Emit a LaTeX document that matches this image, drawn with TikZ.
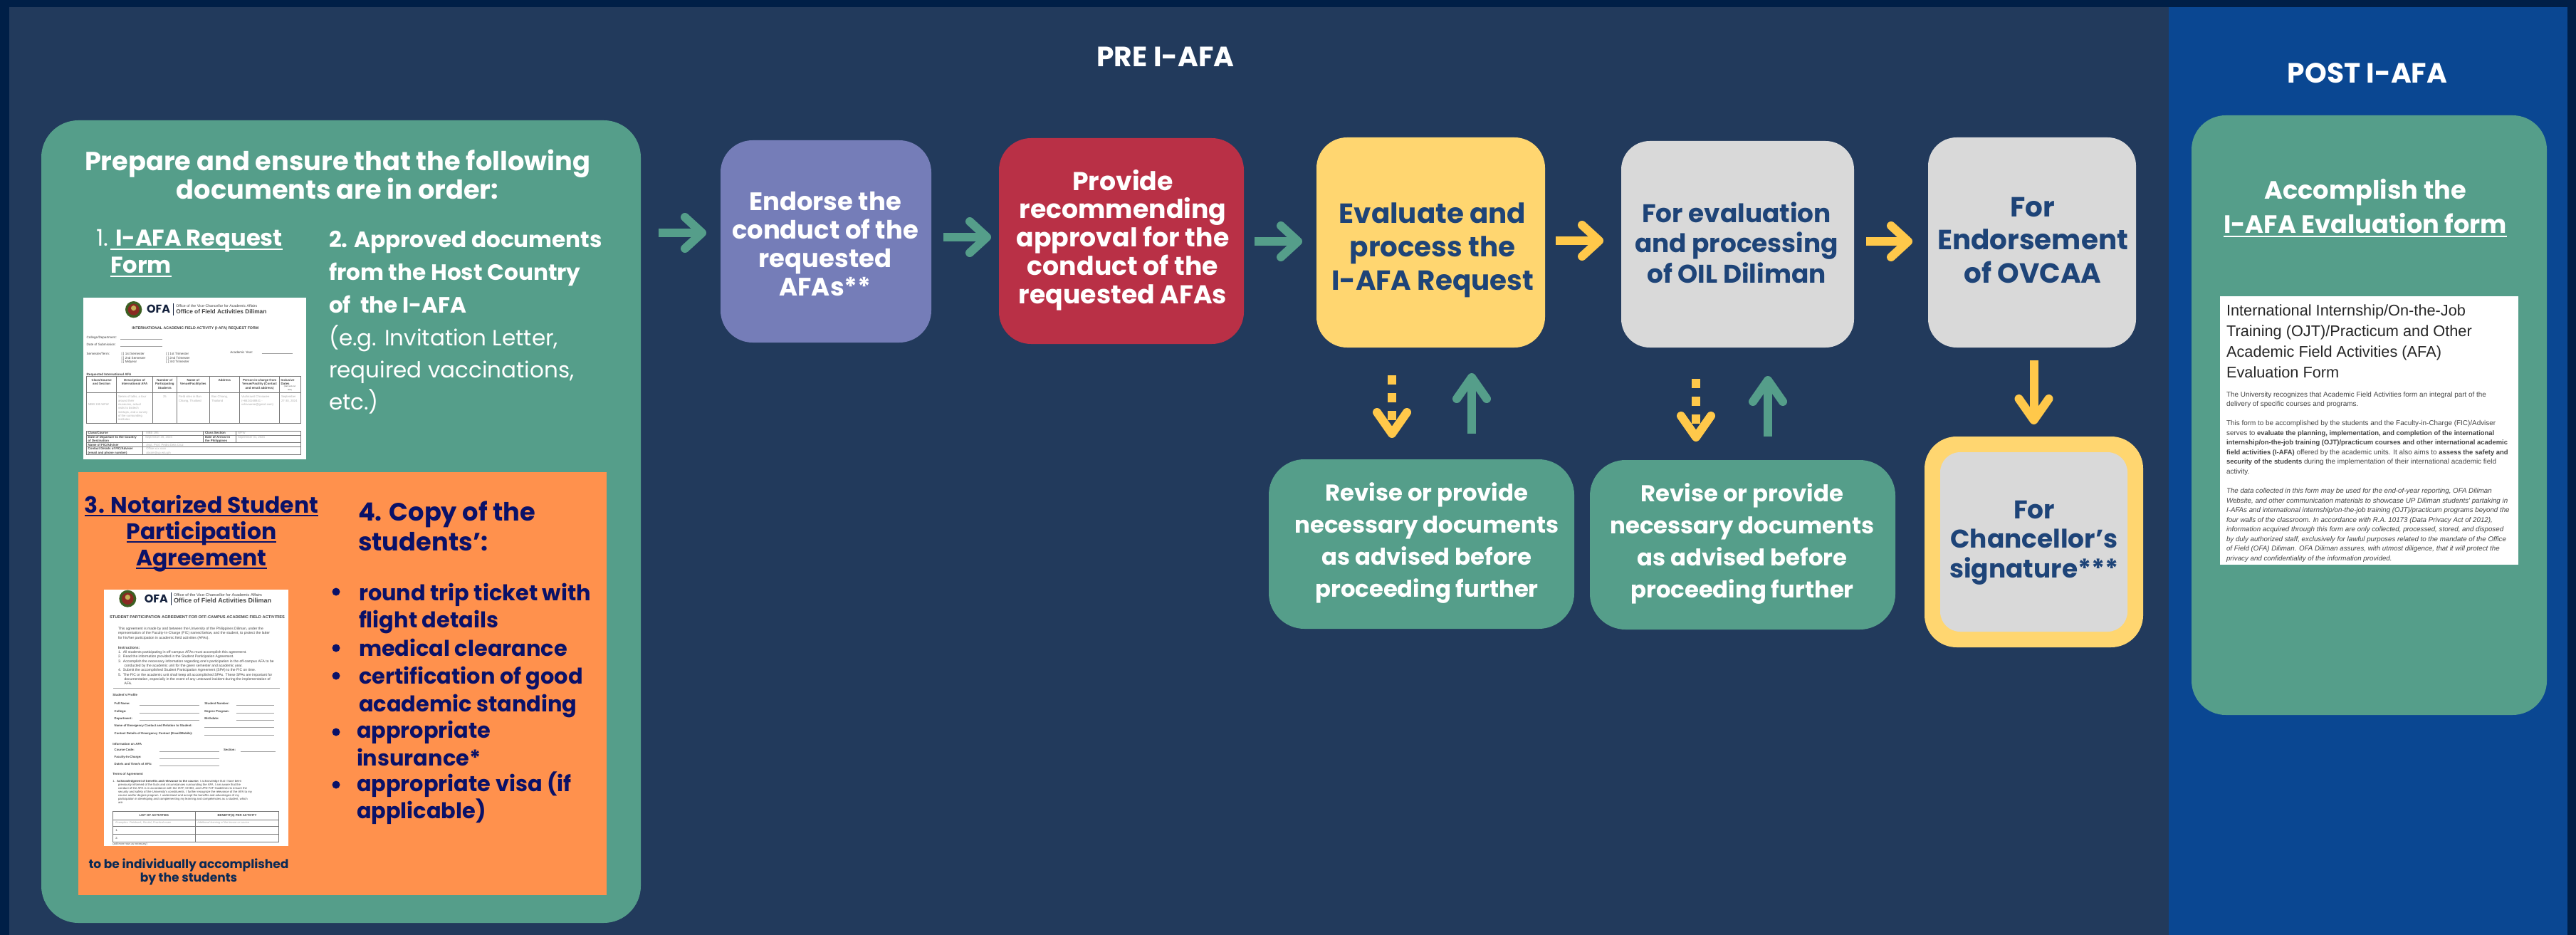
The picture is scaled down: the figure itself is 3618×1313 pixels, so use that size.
\documentclass[tikz,border=0pt]{standalone}
\usepackage{fontspec}
\setmainfont{Poppins}
\newfontfamily\formfont{Liberation Sans}
\usetikzlibrary{arrows.meta,calc}
\definecolor{edgenavy}{HTML}{001F47}
\definecolor{panelnavy}{HTML}{223A5C}
\definecolor{postblue}{HTML}{0A4792}
\definecolor{tealgreen}{HTML}{559E8A}
\definecolor{purplebox}{HTML}{757DB8}
\definecolor{redbox}{HTML}{B93046}
\definecolor{yellowbox}{HTML}{FFD670}
\definecolor{graybox}{HTML}{D9D9D9}
\definecolor{orangebox}{HTML}{FF914D}
\definecolor{arrowyellow}{HTML}{FFC84A}
\definecolor{boxtext}{HTML}{1E4478}
\definecolor{orangetext}{HTML}{0A1168}
\definecolor{notetext}{HTML}{0B2A55}
\definecolor{formgray}{HTML}{AAAAAA}
\definecolor{formtext}{HTML}{444444}
\definecolor{formline}{HTML}{777777}
\definecolor{sealgreen}{HTML}{3C5F22}
\definecolor{sealred}{HTML}{8A2A22}
\definecolor{ofanavy}{HTML}{14213D}
\tikzset{
  x=1pt,y=-1pt,
  flowbox/.style={rectangle,inner sep=0pt,outer sep=0pt,align=center},
  flowlabel/.style={inner sep=0pt,outer sep=0pt,align=center,anchor=base},
  flowarrow/.style={line width=12pt,-{Straight Barb[round,length=24pt,width=44pt,line width=12pt]}},
  vertarrow/.style={line width=12pt,-{Straight Barb[round,length=30pt,width=42pt,line width=12pt]}},
  greenarrow/.style={flowarrow,draw=tealgreen},
  yellowarrow/.style={flowarrow,draw=arrowyellow},
  upgreen/.style={vertarrow,draw=tealgreen},
  downyellow/.style={vertarrow,draw=arrowyellow},
  dashyellow/.style={vertarrow,draw=arrowyellow,dash pattern=on 13pt off 12pt},
  plain/.style={inner sep=0pt,outer sep=0pt,anchor=base west},
  formrule/.style={draw=formline,line width=0.7pt},
  formlight/.style={draw=formline!70,line width=0.6pt},
}
\newcommand{\boxn}[7][]{%
  \node[flowbox,#7,minimum width={(#4-#2)*1pt},minimum height={(#5-#3)*1pt},#1] (#6) at ({(#2+#4)/2},{(#3+#5)/2}) {};}
\newcommand{\ul}[1]{\setbox0\hbox{#1}\rlap{\rule[-5pt]{\wd0}{2.4pt}}\box0}
\newcounter{ftc}
\newcommand{\ft}[5][formtext]{%
  \stepcounter{ftc}%
  \node[plain,text=#1,font=\formfont\fontsize{#4}{#4}\selectfont] (ft\theftc) at (#2,#3) {#5};}
\newcommand{\ftc}[5][formtext]{%
  \stepcounter{ftc}%
  \node[inner sep=0pt,outer sep=0pt,anchor=base,align=center,text=#1,font=\formfont\fontsize{#4}{5.33}\selectfont] (ft\theftc) at (#2,#3) {#5};}
\newcommand{\mainline}[6][white]{%
  \node[plain,text=#1,font=#5] (#6) at (#2,#3) {#4};}
\newcommand{\fitsize}[4]{\setbox0\hbox{#3\fontsize{100}{100}\selectfont #4}\pgfmathsetmacro#1{#2/\wd0*100}}
\newcommand{\bb}[1]{{\fontsize{\szBodyB}{\szBodyB}\selectfont\bfseries #1}}
\begin{document}
\fitsize{\szTitle}{193}{\bfseries}{PRE I-AFA}
\fitsize{\szHead}{710}{\bfseries}{Prepare and ensure that the following}
\fitsize{\szOne}{235}{\bfseries}{I-AFA Request}
\fitsize{\szTwo}{384}{\bfseries}{2. Approved documents}
\fitsize{\szEg}{322}{}{(e.g. Invitation Letter,}
\fitsize{\szNota}{328}{\bfseries}{3. Notarized Student}
\fitsize{\szCopy}{249}{\bfseries}{4. Copy of the}
\fitsize{\szRound}{326}{\bfseries}{round trip ticket with}
\fitsize{\szIndiv}{281}{\bfseries}{to be individually accomplished}
\fitsize{\szCond}{262}{\bfseries}{conduct of the}
\fitsize{\szProv}{299}{\bfseries}{approval for the}
\fitsize{\szEvalq}{284}{\bfseries}{I-AFA Request}
\fitsize{\szProc}{286}{\bfseries}{and processing}
\fitsize{\szEndo}{268}{\bfseries}{Endorsement}
\fitsize{\szNece}{371}{\bfseries}{necessary documents}
\fitsize{\szChan}{235}{\bfseries}{Chancellor’s}
\fitsize{\szAcc}{398}{\bfseries}{I-AFA Evaluation form}
\fitsize{\szOfa}{33}{\bfseries}{OFA}
\fitsize{\szTit}{336}{\formfont}{International Internship/On-the-Job}
\fitsize{\szBody}{365}{\formfont}{The University recognizes that Academic Field Activities form an integral part of the}
\fitsize{\szBodyB}{395}{\formfont\bfseries}{internship/on-the-job training (OJT)/practicum courses and other international academic}
\fitsize{\szItal}{393}{\formfont\itshape}{by duly authorized staff, exclusively for lawful purposes related to the mandate of the Office}
\fitsize{\szOfaA}{127}{\formfont\bfseries}{Office of Field Activities Diliman}
\fitsize{\szOfaB}{137}{\formfont\bfseries}{Office of Field Activities Diliman}
\fitsize{\szVcA}{114}{\formfont}{Office of the Vice-Chancellor for Academic Affairs}
\fitsize{\szVcB}{124}{\formfont}{Office of the Vice-Chancellor for Academic Affairs}
\fitsize{\szReq}{178}{\formfont\bfseries}{INTERNATIONAL ACADEMIC FIELD ACTIVITY (I-AFA) REQUEST FORM}
\fitsize{\szStu}{246}{\formfont\bfseries}{STUDENT PARTICIPATION AGREEMENT FOR OFF-CAMPUS ACADEMIC FIELD ACTIVITIES}
\fitsize{\szAgr}{213}{\formfont}{representation of the Faculty-In-Charge (FIC) named below, and the student, to protect the latter}
\begin{tikzpicture}
\useasboundingbox (0,0) rectangle (3618,1313);
\fill[edgenavy] (0,0) rectangle (3618,1313);
\fill[panelnavy] (13,10) rectangle (3046,1313);
\fill[postblue] (3046,10) rectangle (3606,1313);

% titles
\node[flowlabel,text=white,font=\bfseries\fontsize{\szTitle}{40}\selectfont] (pretitle) at (1637,94) {PRE I-AFA};
\node[flowlabel,text=white,font=\bfseries\fontsize{\szTitle}{40}\selectfont] (posttitle) at (3325,117) {POST I-AFA};

% left panel
\boxn{58}{169}{900}{1296}{prep}{fill=tealgreen,rounded corners=52pt}
\boxn{110}{663}{852}{1257}{orange}{fill=orangebox}
\node[flowlabel,text=white,font=\bfseries\fontsize{\szHead}{35}\selectfont] (prephead) at (474,280) {Prepare and ensure that the following\\documents are in order:};

\mainline{135}{346}{1.}{\fontsize{\szOne}{38}\selectfont}{itemone}
\mainline{155}{346}{\ul{\hspace{7pt}I-AFA Request}}{\bfseries\fontsize{\szOne}{38}\selectfont}{itemonea}
\mainline{155}{384}{\ul{Form}}{\bfseries\fontsize{\szOne}{38}\selectfont}{itemoneb}
\mainline{462}{348}{2. Approved documents}{\bfseries\fontsize{\szTwo}{38}\selectfont}{itemtwoa}
\mainline{462}{393}{from the Host Country}{\bfseries\fontsize{\szTwo}{38}\selectfont}{itemtwob}
\mainline{462}{439}{of\ \ the I-AFA}{\bfseries\fontsize{\szTwo}{38}\selectfont}{itemtwoc}
\mainline{462}{485}{(e.g. Invitation Letter,}{\fontsize{\szEg}{38}\selectfont}{itemtwod}
\mainline{462}{530}{required vaccinations,}{\fontsize{\szEg}{38}\selectfont}{itemtwoe}
\mainline{462}{575}{etc.)}{\fontsize{\szEg}{38}\selectfont}{itemtwof}

% request form
\fill[white] (117,418) rectangle (430,645);
\begin{scope}[x=0.33333pt,y=-0.33333pt,shift={(110pt,-410pt)}]
\fill[sealgreen] (233,74) circle (35);
\fill[sealred] (233,74) circle (24);
\fill[yellowbox!70!sealgreen] (233,68) circle (11);
\node[inner sep=0pt,text=ofanavy,font=\bfseries\fontsize{\szOfa}{22}\selectfont] (reqofa) at (338,73) {OFA};
\draw[draw=ofanavy,line width=0.5pt] (400,48) -- (400,98);
\ft{412}{64}{\szVcA}{Office of the Vice-Chancellor for Academic Affairs}
\ft{412}{90}{\szOfaA}{\bfseries Office of Field Activities Diliman}
\ft{226}{157}{\szReq}{\bfseries INTERNATIONAL ACADEMIC FIELD ACTIVITY (I-AFA) REQUEST FORM}
\ft{35}{195}{4.6}{College/Department:}
\ft{35}{227}{4.6}{Date of Submission:}
\ft{35}{264}{4.6}{Semester/Term:}
\draw[formlight] (178,198) -- (355,198) (178,229) -- (355,229) (773,260) -- (903,260);
\ft{182}{265}{4.6}{[ ] 1st Semester}
\ft{182}{282}{4.6}{[ ] 2nd Semester}
\ft{182}{298}{4.6}{[ ] Midyear}
\ft{370}{265}{4.6}{[ ] 1st Trimester}
\ft{370}{282}{4.6}{[ ] 2nd Trimester}
\ft{370}{298}{4.6}{[ ] 3rd Trimester}
\ft{640}{259}{4.6}{Academic Year:}
\ft{35}{352}{4.6}{\bfseries Requested International AFA}
\draw[formrule] (35,354) rectangle (938,552) (35,425) -- (938,425);
\draw[formrule] (160,354) -- (160,552) (313,354) -- (313,552) (415,354) -- (415,552) (553,354) -- (553,552) (680,354) -- (680,552) (847,354) -- (847,552);
\ftc{98}{392}{4.4}{\bfseries Class/Course\\\bfseries and Section}
\ftc{237}{392}{4.4}{\bfseries Description of\\\bfseries International AFA}
\ftc{364}{408}{4.4}{\bfseries Number of\\\bfseries Participating\\\bfseries Students}
\ftc{484}{392}{4.4}{\bfseries Name of\\\bfseries Venue/Facility/ies}
\ftc{616}{376}{4.4}{\bfseries Address}
\ftc{764}{408}{4.4}{\bfseries Person-in-charge from\\\bfseries Venue/Facility (Contact\\\bfseries and email address)}
\ft{854}{376}{4.4}{\bfseries Inclusive}
\ft{854}{392}{4.4}{\bfseries Dates}
\ftc{891}{416}{2.6}{(start and end\\date)}
\ft[formgray]{42}{478}{4.2}{MBB 195 WFW}
\ft[formgray]{168}{446}{4.2}{Series of talks, a tour}
\ft[formgray]{168}{462}{4.2}{around their}
\ft[formgray]{168}{478}{4.2}{museums, actual}
\ft[formgray]{168}{494}{4.2}{visits to biotech}
\ft[formgray]{168}{510}{4.2}{startups, and a survey}
\ft[formgray]{168}{526}{4.2}{of the surrounding}
\ft[formgray]{168}{542}{4.2}{institutes}
\ft[formgray]{357}{446}{4.2}{25}
\ft[formgray]{423}{446}{4.2}{Field sites in Ban}
\ft[formgray]{423}{462}{4.2}{Chiang, Thailand}
\ft[formgray]{561}{446}{4.2}{Ban Chiang,}
\ft[formgray]{561}{462}{4.2}{Thailand}
\ft[formgray]{687}{446}{4.2}{Vachirawit Chivaaree}
\ft[formgray]{687}{462}{4.2}{(+6624168841 -}
\ft[formgray]{687}{478}{4.2}{vchivaaree@gmail.com)}
\ft[formgray]{855}{446}{4.2}{September}
\ft[formgray]{855}{462}{4.2}{27-30, 2024}
\draw[formrule] (35,586) rectangle (938,685) (35,603) -- (938,603) (35,634) -- (938,634) (35,652) -- (938,652);
\draw[formrule] (272,586) -- (272,685) (527,586) -- (527,634) (663,586) -- (663,634);
\ft{41}{599}{4.4}{\bfseries Class/Course}
\ft{41}{615}{4.4}{\bfseries Date of Departure to the Country}
\ft{41}{631}{4.4}{\bfseries of Destination}
\ft{41}{648}{4.4}{\bfseries Name of FIC/Adviser}
\ft{41}{665}{4.4}{\bfseries Contact Details of FIC/Adviser}
\ft{41}{681}{4.4}{\bfseries (email and phone number)}
\ft{534}{599}{4.4}{\bfseries Class Section}
\ft{534}{615}{4.4}{\bfseries Date of Arrival in}
\ft{534}{631}{4.4}{\bfseries the Philippines}
\ft[formgray]{286}{599}{4.2}{MBB 195}
\ft[formgray]{282}{615}{4.2}{September 26, 2024}
\ft[formgray]{286}{648}{4.2}{Asst. Prof. Pedro Dela Cruz}
\ft[formgray]{286}{665}{4.2}{Office xxx xxxx}
\ft[formgray]{286}{681}{4.2}{abcde@up.edu.ph}
\ft[formgray]{672}{599}{4.2}{WFW}
\ft[formgray]{672}{615}{4.2}{September 31, 2024}
\end{scope}

% orange contents
\node[flowlabel,text=orangetext,font=\bfseries\fontsize{\szNota}{37}\selectfont] (agree) at (283,794) {\ul{3. Notarized Student}\\\ul{Participation}\\\ul{Agreement}};
\mainline[orangetext]{503}{731}{4. Copy of the}{\bfseries\fontsize{\szCopy}{42}\selectfont}{copya}
\mainline[orangetext]{503}{773}{students’:}{\bfseries\fontsize{\szCopy}{42}\selectfont}{copyb}
\foreach \n/\yy in {a/831,b/910,c/949,d/1028,e/1102}{
  \node[circle,fill=orangetext,inner sep=0pt,minimum size=11pt] (bul\n) at (472,\yy) {};}
\mainline[orangetext]{504}{843}{round trip ticket with}{\bfseries\fontsize{\szRound}{38}\selectfont}{lia}
\mainline[orangetext]{504}{881}{flight details}{\bfseries\fontsize{\szRound}{38}\selectfont}{lib}
\mainline[orangetext]{504}{921}{medical clearance}{\bfseries\fontsize{\szRound}{38}\selectfont}{lic}
\mainline[orangetext]{504}{960}{certification of good}{\bfseries\fontsize{\szRound}{38}\selectfont}{lid}
\mainline[orangetext]{504}{999}{academic standing}{\bfseries\fontsize{\szRound}{38}\selectfont}{lie}
\mainline[orangetext]{501}{1036}{appropriate}{\bfseries\fontsize{\szRound}{38}\selectfont}{lif}
\mainline[orangetext]{501}{1075}{insurance*}{\bfseries\fontsize{\szRound}{38}\selectfont}{lig}
\mainline[orangetext]{501}{1111}{appropriate visa (if}{\bfseries\fontsize{\szRound}{38}\selectfont}{lih}
\mainline[orangetext]{501}{1149}{applicable)}{\bfseries\fontsize{\szRound}{38}\selectfont}{lii}
\node[flowlabel,text=notetext,font=\bfseries\fontsize{\szIndiv}{17}\selectfont] (indiv) at (265,1238) {to be individually accomplished\\by the students};

% student agreement form
\fill[white] (146,828) rectangle (405,1188);
\begin{scope}[x=0.33333pt,y=-0.33333pt,shift={(130pt,-820pt)}]
\fill[sealgreen] (148,62) circle (36);
\fill[sealred] (148,62) circle (25);
\fill[yellowbox!70!sealgreen] (148,56) circle (11);
\node[inner sep=0pt,text=ofanavy,font=\bfseries\fontsize{\szOfa}{22}\selectfont] (agrofa) at (268,62) {OFA};
\draw[draw=ofanavy,line width=0.5pt] (330,35) -- (330,90);
\ft{342}{51}{\szVcB}{Office of the Vice-Chancellor for Academic Affairs}
\ft{342}{78}{\szOfaB}{\bfseries Office of Field Activities Diliman}
\ft{72}{145}{\szStu}{\bfseries STUDENT PARTICIPATION AGREEMENT FOR OFF-CAMPUS ACADEMIC FIELD ACTIVITIES}
\ft{108}{192}{\szAgr}{This agreement is made by and between the University of the Philippines Diliman, under the}
\ft{108}{212}{\szAgr}{representation of the Faculty-In-Charge (FIC) named below, and the student, to protect the latter}
\ft{108}{232}{\szAgr}{for his/her participation in academic field activities (AFAs).}
\ft{108}{274}{\szAgr}{\bfseries Instructions:}
\ft{108}{292}{\szAgr}{1.\ \ All students participating in off-campus AFAs must accomplish this agreement.}
\ft{108}{311}{\szAgr}{2.\ \ Read the information provided in the Student Participation Agreement.}
\ft{108}{330}{\szAgr}{3.\ \ Accomplish the necessary information regarding one's participation in the off-campus AFA to be}
\ft{134}{349}{\szAgr}{conducted by the academic unit for the given semester and academic year.}
\ft{108}{368}{\szAgr}{4.\ \ Submit the accomplished Student Participation Agreement (SPA) to the FIC on time.}
\ft{108}{387}{\szAgr}{5.\ \ The FIC or the academic unit shall keep all accomplished SPAs. These SPAs are important for}
\ft{134}{406}{\szAgr}{documentation, especially in the event of any untoward incident during the implementation of}
\ft{134}{425}{\szAgr}{AFA.}
\draw[formlight] (88,440) -- (790,440);
\ft{85}{472}{4.4}{\bfseries Student's Profile}
\ft{92}{508}{4.3}{\bfseries Full Name:}
\ft{472}{508}{4.3}{\bfseries Student Number:}
\ft{92}{540}{4.3}{\bfseries College:}
\ft{472}{540}{4.3}{\bfseries Degree Program:}
\ft{92}{570}{4.3}{\bfseries Department:}
\ft{472}{570}{4.3}{\bfseries Birthdate:}
\ft{92}{601}{4.3}{\bfseries Name of Emergency Contact and Relation to Student:}
\ft{92}{633}{4.3}{\bfseries Contact Details of Emergency Contact (Email/Mobile):}
\draw[formlight] (197,512) -- (450,512) (197,543) -- (450,543) (197,574) -- (450,574) (605,512) -- (765,512) (605,543) -- (765,543) (605,574) -- (765,574) (472,605) -- (765,605) (472,636) -- (765,636);
\ft{85}{678}{4.4}{\bfseries Information on AFA}
\ft{92}{704}{4.3}{\bfseries Course Code:}
\ft{552}{704}{4.3}{\bfseries Section:}
\ft{92}{733}{4.3}{\bfseries Faculty-In-Charge:}
\ft{92}{764}{4.3}{\bfseries Date/s and Time/s of AFA:}
\draw[formlight] (283,707) -- (535,707) (283,737) -- (535,737) (283,767) -- (535,767) (625,707) -- (770,707);
\ft{85}{806}{4.4}{\bfseries Terms of Agreement}
\ft{85}{835}{4.2}{1.\ \ {\bfseries Acknowledgment of benefits and relevance to the course:} I acknowledge that I have been}
\ft{108}{850}{4.2}{previously informed of the facts and circumstances surrounding the AFA. I am aware that the}
\ft{108}{865}{4.2}{conduct of the AFA is in accordance with the IATF, CHED, and UPD F2F Guidelines to ensure the}
\ft{108}{880}{4.2}{security and safety of the University's constituents. I further recognize the relevance of the AFA to my}
\ft{108}{895}{4.2}{course and/or degree program. I understand and accept the benefits and advantages of my}
\ft{108}{910}{4.2}{participation in developing and complementing my learning and competencies as a student, which}
\ft{108}{925}{4.2}{are:}
\draw[formrule] (85,957) rectangle (785,1087) (85,993) -- (785,993) (85,1020) -- (785,1020) (85,1055) -- (785,1055) (433,957) -- (433,1087);
\ftc{259}{980}{4.3}{\bfseries LIST OF ACTIVITIES}
\ftc{609}{980}{4.3}{\bfseries BENEFIT(S) PER ACTIVITY}
\ft[formgray]{97}{1010}{3.9}{\itshape Examples: Fieldwork, Recital, Practical exam}
\ft[formgray]{442}{1010}{3.9}{\itshape Additional learning of the lesson or course}
\ft{97}{1042}{4.2}{1.}
\ft{97}{1074}{4.2}{2.}
\ft{85}{1100}{3.6}{(add more rows as necessary)}
\end{scope}

% flow boxes
\boxn{1012}{197}{1308}{481}{endorse}{fill=purplebox,rounded corners=45pt}
\node[flowlabel,text=white,font=\bfseries\fontsize{\szCond}{40}\selectfont] (endorsetxt) at (1159,415) {Endorse the\\conduct of the\\requested\\AFAs**};
\boxn{1403}{194}{1747}{483}{approve}{fill=redbox,rounded corners=45pt}
\node[flowlabel,text=white,font=\bfseries\fontsize{\szProv}{39.75}\selectfont] (approvetxt) at (1577,426) {Provide\\recommending\\approval for the\\conduct of the\\requested AFAs};
\boxn{1849}{193}{2170}{488}{evaluate}{fill=yellowbox,rounded corners=43pt}
\node[flowlabel,text=boxtext,font=\bfseries\fontsize{\szEvalq}{47}\selectfont] (evaluatetxt) at (2012,407) {Evaluate and\\process the\\I-AFA Request};
\boxn{2277}{198}{2604}{488}{oil}{fill=graybox,rounded corners=40pt}
\node[flowlabel,text=boxtext,font=\bfseries\fontsize{\szProc}{42.5}\selectfont] (oiltxt) at (2439,397) {For evaluation\\and processing\\of OIL Diliman};
\boxn{2708}{193}{3000}{488}{ovcaa}{fill=graybox,rounded corners=40pt}
\node[flowlabel,text=boxtext,font=\bfseries\fontsize{\szEndo}{46.5}\selectfont] (ovcaatxt) at (2855,397) {For\\Endorsement\\of OVCAA};

\boxn{1782}{645}{2211}{883}{reviseone}{fill=tealgreen,rounded corners=50pt}
\node[flowlabel,text=white,font=\bfseries\fontsize{\szNece}{45}\selectfont] (reviseonetxt) at (2004,838) {Revise or provide\\necessary documents\\as advised before\\proceeding further};
\boxn{2233}{646}{2662}{884}{revisetwo}{fill=tealgreen,rounded corners=50pt}
\node[flowlabel,text=white,font=\bfseries\fontsize{\szNece}{45}\selectfont] (revisetwotxt) at (2447,839) {Revise or provide\\necessary documents\\as advised before\\proceeding further};
\boxn{2703}{613}{3010}{909}{chanouter}{fill=yellowbox,rounded corners=45pt}
\boxn{2725}{635}{2988}{887}{chan}{fill=graybox,rounded corners=28pt}
\node[flowlabel,text=boxtext,font=\bfseries\fontsize{\szChan}{41.5}\selectfont] (chantxt) at (2857,811) {For\\Chancellor’s\\signature***};

% connectors
\draw[greenarrow,shorten <=25pt,shorten >=20pt] ([yshift=12pt]endorse.west -| prep.east) -- ([yshift=12pt]endorse.west);
\draw[greenarrow,shorten <=17pt,shorten >=11pt] ([yshift=5.5pt]approve.west -| endorse.east) -- ([yshift=5.5pt]approve.west);
\draw[greenarrow,shorten <=15pt,shorten >=20pt] ([yshift=1.5pt]evaluate.west -| approve.east) -- ([yshift=1.5pt]evaluate.west);
\draw[yellowarrow,shorten <=15pt,shorten >=25pt] ([yshift=2.5pt]evaluate.east) -- ([yshift=2.5pt]evaluate.east -| oil.west);
\draw[yellowarrow,shorten <=17pt,shorten >=22pt] ([yshift=4pt]oil.east) -- ([yshift=4pt]oil.east -| ovcaa.west);
\draw[downyellow,shorten <=18pt,shorten >=17pt] (ovcaa.south -| chanouter.north) -- (chanouter.north);
\draw[dashyellow,shorten <=39pt,shorten >=30pt] ([xshift=-41.5pt]reviseone.north |- evaluate.south) -- ([xshift=-41.5pt]reviseone.north);
\draw[upgreen,shorten <=36pt,shorten >=36pt] ([xshift=70.5pt]reviseone.north) -- ([xshift=70.5pt]reviseone.north |- evaluate.south);
\draw[dashyellow,shorten <=44pt,shorten >=26pt] ([xshift=-65.5pt]revisetwo.north |- oil.south) -- ([xshift=-65.5pt]revisetwo.north);
\draw[upgreen,shorten <=33pt,shorten >=40pt] ([xshift=35.5pt]revisetwo.north) -- ([xshift=35.5pt]revisetwo.north |- oil.south);

% post panel
\boxn{3078}{162}{3577}{1004}{post}{fill=tealgreen,rounded corners=48pt}
\node[flowlabel,text=white,font=\bfseries\fontsize{\szAcc}{48}\selectfont] (accomp) at (3322,328) {Accomplish the\\\ul{I-AFA Evaluation form}};
\fill[white] (3118,416) rectangle (3537,793);
\ft[black!85]{3127}{443}{\szTit}{International Internship/On-the-Job}
\ft[black!85]{3127}{472}{\szTit}{Training (OJT)/Practicum and Other}
\ft[black!85]{3127}{501}{\szTit}{Academic Field Activities (AFA)}
\ft[black!85]{3127}{530}{\szTit}{Evaluation Form}
\ft{3127}{557}{\szBody}{The University recognizes that Academic Field Activities form an integral part of the}
\ft{3127}{570}{\szBody}{delivery of specific courses and programs.}
\ft{3127}{597}{\szBody}{This form to be accomplished by the students and the Faculty-in-Charge (FIC)/Adviser}
\ft{3127}{611}{\szBody}{serves to \bb{evaluate the planning, implementation, and completion of the international}}
\ft{3127}{624}{\szBody}{\bb{internship/on-the-job training (OJT)/practicum courses and other international academic}}
\ft{3127}{638}{\szBody}{\bb{field activities (I-AFA)} offered by the academic units. It also aims to \bb{assess the safety and}}
\ft{3127}{651}{\szBody}{\bb{security of the students} during the implementation of their international academic field}
\ft{3127}{665}{\szBody}{activity.}
\ft{3127}{692}{\szItal}{\itshape The data collected in this form may be used for the end-of-year reporting, OFA Diliman}
\ft{3127}{706}{\szItal}{\itshape Website, and other communication materials to showcase UP Diliman students' partaking in}
\ft{3127}{719}{\szItal}{\itshape I-AFAs and international internship/on-the-job training (OJT)/practicum programs beyond the}
\ft{3127}{733}{\szItal}{\itshape four walls of the classroom. In accordance with R.A. 10173 (Data Privacy Act of 2012),}
\ft{3127}{746}{\szItal}{\itshape information acquired through this form are only collected, processed, stored, and disposed}
\ft{3127}{760}{\szItal}{\itshape by duly authorized staff, exclusively for lawful purposes related to the mandate of the Office}
\ft{3127}{773}{\szItal}{\itshape of Field (OFA) Diliman. OFA Diliman assures, with utmost diligence, that it will protect the}
\ft{3127}{787}{\szItal}{\itshape privacy and confidentiality of the information provided.}
\end{tikzpicture}
\end{document}
